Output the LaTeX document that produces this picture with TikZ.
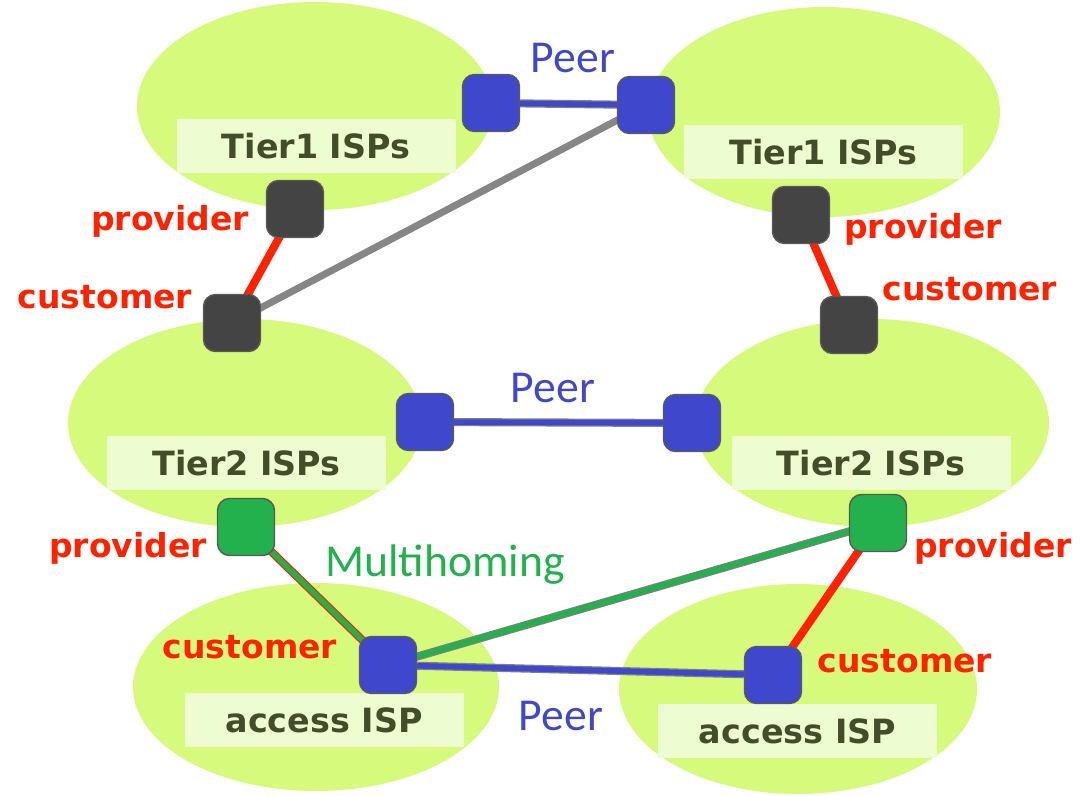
\documentclass[tikz,border=0pt]{standalone}
\usepackage{fontspec}
\setmainfont{DejaVu Sans}
\newfontfamily\peerfont{Carlito}
\usetikzlibrary{calc}
\definecolor{cloud}{HTML}{D6FA7C}
\definecolor{tag}{HTML}{EEFCD2}
\definecolor{tagtext}{HTML}{434D29}
\definecolor{portblue}{HTML}{3F48CC}
\definecolor{portdark}{HTML}{444444}
\definecolor{portgreen}{HTML}{22B14C}
\definecolor{relred}{HTML}{FF2200}
\pgfdeclarelayer{back}
\pgfdeclarelayer{links}
\pgfsetlayers{back,links,main}

\begin{document}
\begin{tikzpicture}[x=0.1mm, y=-0.1mm,
    port/.style={draw=black!65, line width=0.4pt, rounded corners=1.2mm, minimum size=5.7mm, inner sep=0pt},
    bport/.style={port, fill=portblue},
    dport/.style={port, fill=portdark},
    gport/.style={port, fill=portgreen},
    isp/.style={fill=tag, text=tagtext, minimum width=27.9mm, minimum height=5.4mm, inner sep=0pt, font=\fontsize{9.5}{11}\selectfont\bfseries},
    role/.style={text=relred, anchor=base, inner sep=0pt, font=\fontsize{9.4}{11}\selectfont\bfseries},
    peer/.style={text=portblue, anchor=base, inner sep=0pt, font=\peerfont\fontsize{13}{15}\selectfont},
    peerline/.style={draw=gray, line width=0.35pt, double=portblue, double distance=1.6pt},
    upline/.style={draw=gray!95, line width=2pt},
    relline/.style={draw=relred, line width=2.3pt},
    multiline/.style={line width=0.35pt, double=portgreen, double distance=1.6pt}]
    \useasboundingbox (0,0) rectangle (1087,796);
    \begin{pgfonlayer}{back}
        \fill [cloud] (315,106) ellipse [x radius=17.8mm, y radius=10.4mm];
        \fill [cloud] (824,112) ellipse [x radius=17.6mm, y radius=10.5mm];
        \fill [cloud] (245,423) ellipse [x radius=17.7mm, y radius=10.4mm];
        \fill [cloud] (872,423) ellipse [x radius=17.7mm, y radius=10.4mm];
        \fill [cloud] (316,687) ellipse [x radius=18.3mm, y radius=10.4mm];
        \fill [cloud] (798,689) ellipse [x radius=17.9mm, y radius=10.5mm];
    \end{pgfonlayer}
    \node [isp] (tier1a) at (316,146) {Tier1 ISPs};
    \node [isp] (tier1b) at (823.5,152) {Tier1 ISPs};
    \node [isp] (tier2a) at (246.5,463) {Tier2 ISPs};
    \node [isp] (tier2b) at (871,463) {Tier2 ISPs};
    \node [isp] (acca) at (324,720) {access ISP};
    \node [isp] (accb) at (797.5,731) {access ISP};
    \node [bport] (peer1a) at (491,103) {};
    \node [bport] (peer1b) at (646,105) {};
    \node [dport] (prov1a) at (295,209) {};
    \node [dport] (cust1a) at (232,323) {};
    \node [dport] (prov1b) at (801,215) {};
    \node [dport] (cust1b) at (849,325) {};
    \node [bport] (peer2a) at (425,422) {};
    \node [bport] (peer2b) at (692,423) {};
    \node [gport] (prov2a) at (246,527) {};
    \node [gport] (prov2b) at (878,523) {};
    \node [bport] (hosta) at (388,665) {};
    \node [bport] (hostb) at (773,675) {};
    \begin{pgfonlayer}{links}
        \draw [peerline] (peer1a) -- (peer1b);
        \draw [upline] (peer1b.center) -- (cust1a.center);
        \draw [relline] (prov1a.center) -- (cust1a.center);
        \draw [relline] (prov1b.center) -- (cust1b.center);
        \draw [peerline] (peer2a) -- (peer2b);
        \draw [multiline, draw=relred] (prov2a.center) -- (hosta.center);
        \draw [multiline, draw=gray] (hosta.center) -- (prov2b.center);
        \draw [relline] (prov2b.center) -- (hostb.center);
        \draw [peerline] (hosta) -- (hostb);
    \end{pgfonlayer}
    \node [peer] (peertxt1) at (573,72) {Peer};
    \node [peer] (peertxt2) at (553,402) {Peer};
    \node [peer] (peertxt3) at (561,730) {Peer};
    \node [peer, text=portgreen] (multitxt) at (445,576) {Multihoming};
    \node [role] (provtxt1a) at (170,230) {provider};
    \node [role] (custtxt1a) at (105,308) {customer};
    \node [role] (provtxt1b) at (923,238) {provider};
    \node [role] (custtxt1b) at (970,300) {customer};
    \node [role] (provtxt2a) at (128,557) {provider};
    \node [role] (provtxt2b) at (993,557) {provider};
    \node [role] (custtxta) at (250,658) {customer};
    \node [role] (custtxtb) at (905,672) {customer};
\end{tikzpicture}
\end{document}
